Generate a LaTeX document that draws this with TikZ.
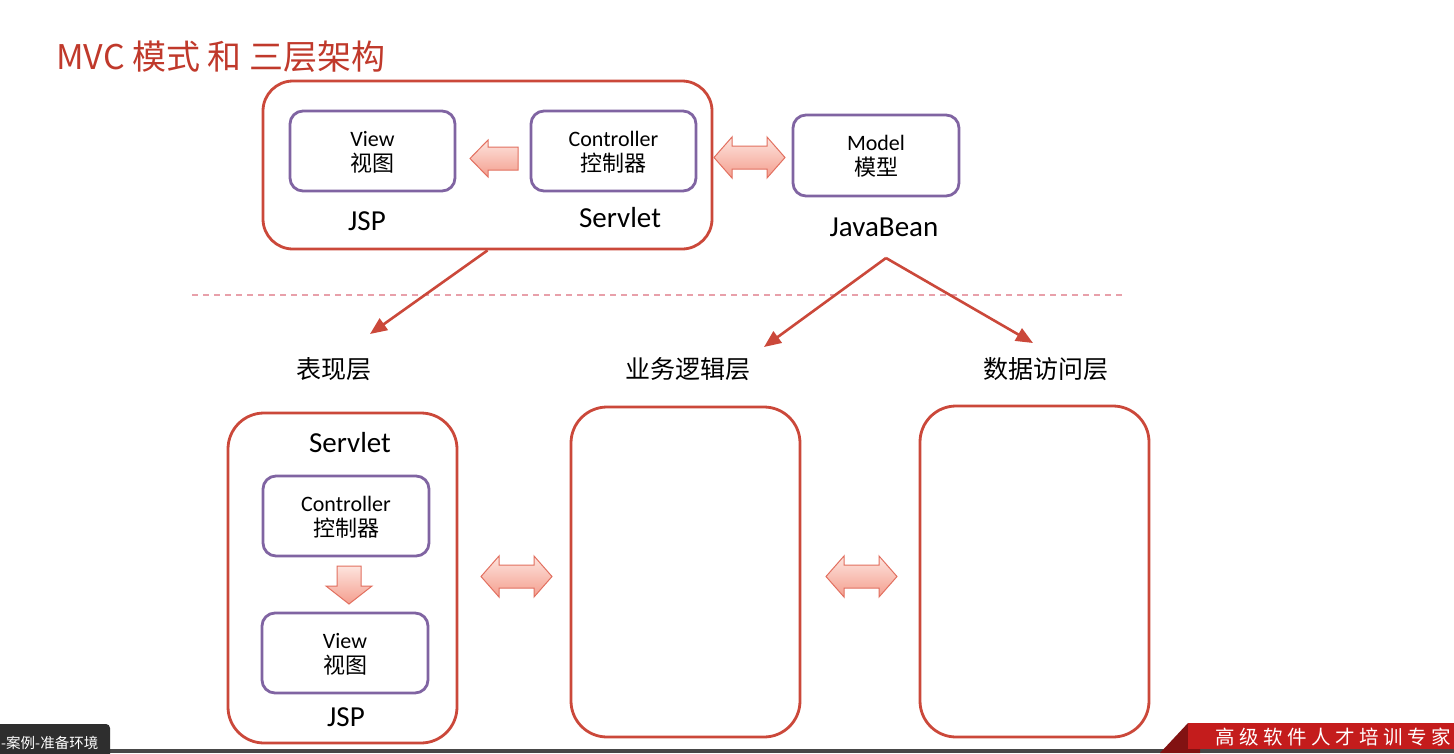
\documentclass[tikz,border=0pt]{standalone}
\usepackage{fontspec}
\setmainfont{Carlito}
\newfontfamily\cjk{Noto Sans CJK SC}
\usetikzlibrary{arrows.meta,calc}
\definecolor{boxred}{RGB}{203,72,58}
\definecolor{titlered}{RGB}{192,57,43}
\definecolor{boxpurple}{RGB}{128,100,162}
\definecolor{arrowedge}{RGB}{226,112,96}
\definecolor{arrowtop}{RGB}{253,228,222}
\definecolor{arrowbot}{RGB}{244,158,142}
\definecolor{dashpink}{RGB}{232,160,170}
\definecolor{bannerred}{RGB}{196,28,28}
\definecolor{bannerdark}{RGB}{130,18,18}
\newcommand{\gap}{\hspace{4.5pt}}
\tikzset{
  bigbox/.style={draw=boxred, line width=2.8pt, rounded corners=30pt, inner sep=0pt},
  smallbox/.style={draw=boxpurple, line width=2.8pt, rounded corners=13pt, fill=white,
    minimum width=165pt, minimum height=80pt, inner sep=0pt, align=center, text depth=-2pt,
    font=\fontsize{22}{25}\selectfont},
  lbl/.style={font=\fontsize{29}{32}\selectfont, inner sep=0pt},
  layer/.style={font=\cjk\fontsize{25}{28}\selectfont, inner sep=0pt},
  link/.style={draw=boxred, line width=2.6pt, -{Triangle[length=17pt,width=14pt]}},
  blockarrow/.style={draw=arrowedge, line width=1pt, top color=arrowtop, bottom color=arrowbot, line join=miter},
  dblarrow/.pic={\path[blockarrow] (0,0) -- (18,-20.5) -- (18,-11.5) -- (53,-11.5) -- (53,-20.5) -- (71,0) -- (53,20.5) -- (53,11.5) -- (18,11.5) -- (18,20.5) -- cycle;},
}
\begin{document}
\begin{tikzpicture}[x=1pt,y=-1pt]
\useasboundingbox[fill=white] (0,0) rectangle (1454,753);

% title
\node[anchor=west, text=titlered, font=\cjk\fontsize{34}{38}\selectfont, inner sep=0pt] (title) at (56,57) {MVC 模式 和 三层架构};

% top MVC group
\node[bigbox, minimum width=449pt, minimum height=168pt] (top) at (487.5,165) {};
\node[smallbox] (view) at (372.5,151) {View\\{\cjk 视图}};
\node[smallbox] (ctrl) at (613.5,151) {Controller\\{\cjk 控制器}};
\node[smallbox, minimum width=166pt, minimum height=81pt] (model) at (876,155.5) {Model\\{\cjk 模型}};
\node[lbl] (jsp) at (367,221) {JSP};
\node[lbl] (servlet) at (620,218) {Servlet};
\node[lbl] (bean) at (884,227) {JavaBean};

% block arrows top
\path[blockarrow] (518,147) -- (488,147) -- (488,140) -- (470,158.5) -- (488,177) -- (488,170) -- (518,170) -- cycle;
\pic at (714,157.5) {dblarrow};

% dashed separator
\draw[dashpink, line width=1.3pt, dash pattern=on 6pt off 5pt] (192,295) -- (1125,295);

% layer labels
\node[layer] (pres) at (334,369) {表现层};
\node[layer] (biz) at (688,369) {业务逻辑层};
\node[layer] (data) at (1046,369) {数据访问层};

% connectors
\coordinate (presend) at (370,334);
\coordinate (fork) at (886,258);
\coordinate (bizend) at (764,347);
\coordinate (dataend) at (1033,343);
\draw[link] (top.south) -- (presend);
\draw[link] (fork) -- (bizend);
\draw[link] (fork) -- (dataend);

% bottom layers
\node[bigbox, minimum width=229pt, minimum height=330pt, rounded corners=36pt] (lay1) at (342.5,578) {};
\node[bigbox, minimum width=229pt, minimum height=330pt, rounded corners=36pt] (lay2) at (685.5,572) {};
\node[bigbox, minimum width=229pt, minimum height=331pt, rounded corners=36pt] (lay3) at (1034.5,571.5) {};
\node[lbl] (servlet2) at (350,443) {Servlet};
\node[smallbox, minimum width=166pt] (ctrl2) at (346,516) {Controller\\{\cjk 控制器}};
\node[smallbox, minimum width=166pt] (view2) at (345,653) {View\\{\cjk 视图}};
\node[lbl] (jsp2) at (346,717) {JSP};
\path[blockarrow] (337,566) -- (361,566) -- (361,586) -- (372,586) -- (349,604) -- (326,586) -- (337,586) -- cycle;
\pic at (481,576.5) {dblarrow};
\pic at (826,576.5) {dblarrow};

% screen overlays
\fill[black!72] (0,749) rectangle (1454,753);
\fill[black!82, rounded corners=4pt] (-10,724) rectangle (110,760);
\node[anchor=west, text=white, font=\cjk\fontsize{14.5}{17}\selectfont, inner sep=0pt] (tag) at (1,743) {-案例-准备环境};
\fill[bannerdark] (1160,753) -- (1188,723) -- (1200,723) -- (1200,753) -- cycle;
\fill[bannerred] (1188,723) rectangle (1460,749);
\node[anchor=west, text=white, font=\cjk\fontsize{19.5}{22}\selectfont, inner sep=0pt] (banner) at (1215,737) {高\gap 级\gap 软\gap 件\gap 人\gap 才\gap 培\gap 训\gap 专\gap 家};
\end{tikzpicture}
\end{document}
